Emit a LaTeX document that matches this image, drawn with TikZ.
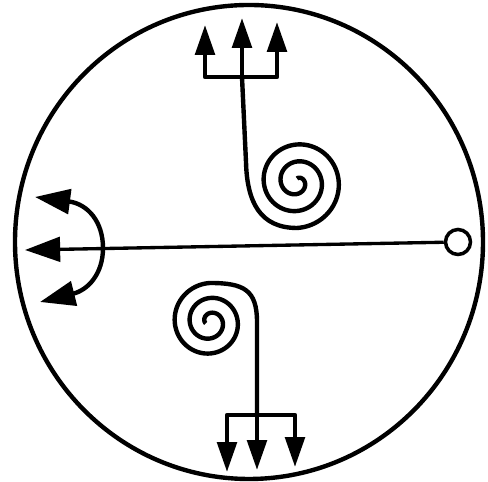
\documentclass[tikz,border=0pt]{standalone}
\usepackage{tikz}
\usetikzlibrary{arrows.meta}

\begin{document}
\begin{tikzpicture}[x=0.02cm, y=0.02cm,
  ink/.style={line width=2.5pt, line join=round},
  thin ink/.style={line width=1.9pt},
  forkhead/.style={-{Triangle[length=17pt, width=11pt]}},
  fanhead/.style={-{Triangle[length=20pt, width=14pt]}},
  fanboth/.style={{Triangle[length=20pt, width=14pt]}-{Triangle[length=20pt, width=14pt]}},
  bulb/.style={circle, draw, line width=2pt, minimum size=0.5cm, inner sep=0pt}
]
  \useasboundingbox (0,0) rectangle (488,482);

  % rim
  \draw[ink] (249,240) ellipse [x radius=234, y radius=237];

  % top fork, stem and spiral
  \coordinate (tbar) at (242,405);
  \coordinate (tl) at (205,457);
  \coordinate (tm) at (242,464);
  \coordinate (tr) at (277,460);
  \draw[ink, forkhead] (tbar) -| (tl);
  \draw[ink, forkhead] (tbar) -- (tm);
  \draw[ink, forkhead] (tbar) -| (tr);
  \draw[ink] (tbar) -- (246,320) .. controls (247,280) and (260,254) .. (297,254)
    -- plot[domain=-90:810, samples=240, smooth]
       ({297+(46-17*(\x+90)/360)*cos(\x)}, {300+(46-17*(\x+90)/360)*sin(\x)});

  % bottom spiral, stem and fork
  \coordinate (bbar) at (257,67);
  \coordinate (bl) at (227,10);
  \coordinate (bm) at (257,12);
  \coordinate (br) at (295,15);
  \draw[ink] (bbar) -- (257,160) .. controls (257,192) and (244,199) .. (210,199)
    -- plot[domain=90:918, samples=240, smooth]
       ({210+(39-15*(\x-90)/360)*cos(\x)}, {160+(39-15*(\x-90)/360)*sin(\x)});
  \draw[ink, forkhead] (bbar) -| (bl);
  \draw[ink, forkhead] (bbar) -- (bm);
  \draw[ink, forkhead] (bbar) -| (br);

  % axis and left fan
  \node[bulb] (bulb) at (458,240) {};
  \coordinate (ftip) at (25,232);
  \coordinate (fmid) at (103,234);
  \coordinate (fup) at (35,285);
  \coordinate (fdown) at (40,180);
  \draw[thin ink, fanhead] (bulb) -- (ftip);
  \draw[ink, fanboth] (fup) .. controls (88,278) and (103,260) .. (fmid)
    .. controls (103,208) and (88,192) .. (fdown);
\end{tikzpicture}
\end{document}
